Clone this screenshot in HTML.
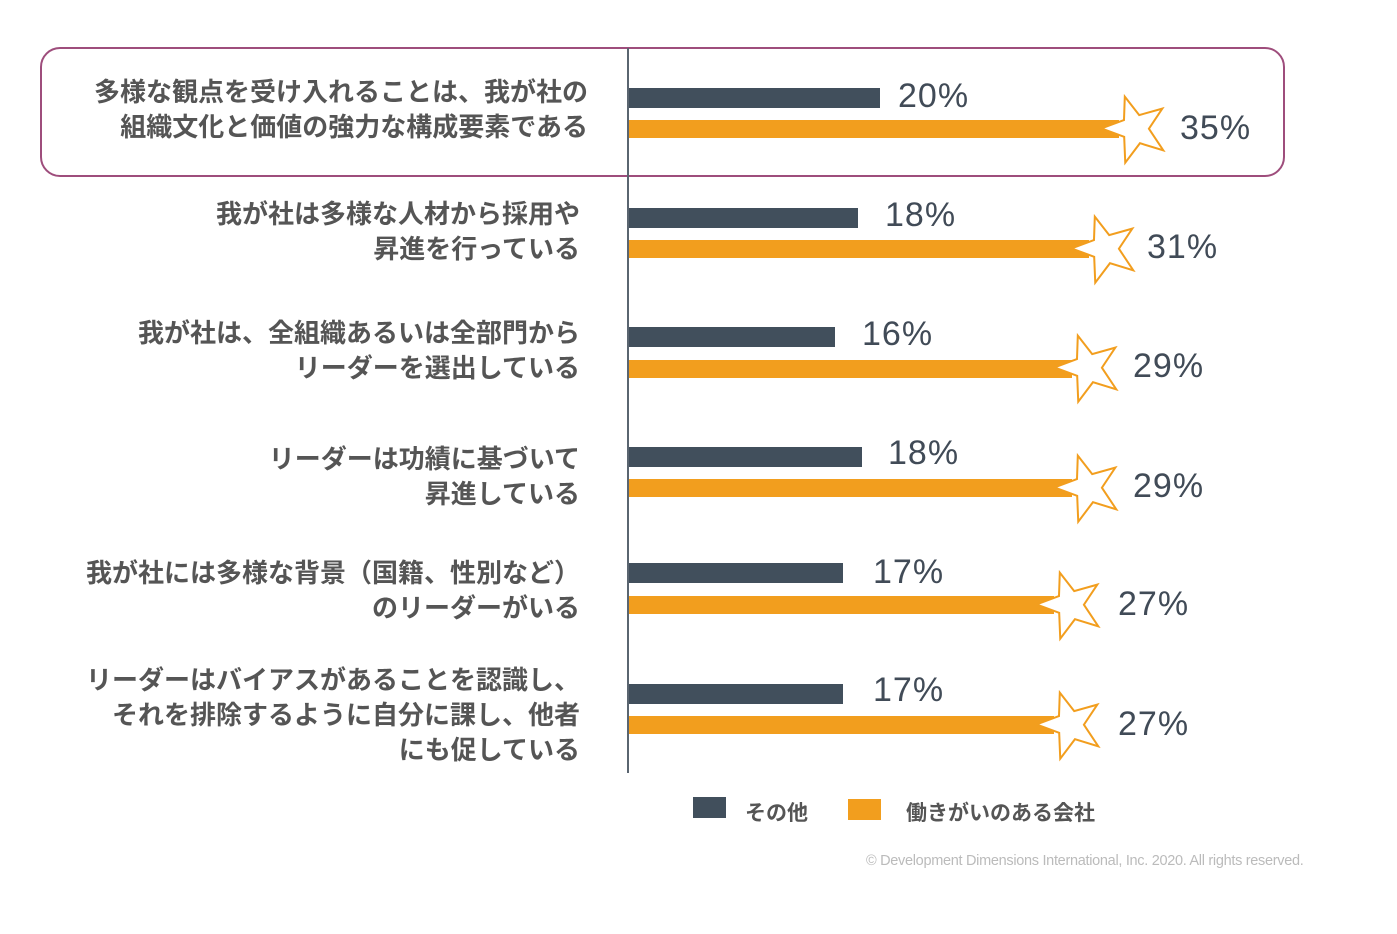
<!DOCTYPE html>
<html><head><meta charset="utf-8"><style>
body{margin:0;width:1397px;height:934px;background:#fff;position:relative;overflow:hidden;font-family:"Liberation Sans","Noto Sans CJK JP",sans-serif}
.a{position:absolute}
.lab{position:absolute;right:817px;text-align:right;font-size:26px;font-weight:bold;color:#555;line-height:35px;white-space:nowrap;letter-spacing:0}
.g{position:absolute;left:629px;height:20px;background:#414f5c}
.o{position:absolute;left:629px;height:18px;background:#f29e1e}
.p{position:absolute;font-size:34px;color:#414b57;line-height:1;transform:translateY(-50%);letter-spacing:1px}
</style></head><body>
<div class="a" style="left:40px;top:47px;width:1241px;height:126px;border:2.5px solid #9e4d7c;border-radius:20px"></div>
<div class="a" style="left:627px;top:48px;width:2px;height:725px;background:#5a6570"></div>

<div class="lab" style="top:75px;right:809px">多様な観点を受け入れることは、我が社の<br>組織文化と価値の強力な構成要素である</div>
<div class="lab" style="top:197px">我が社は多様な人材から採用や<br>昇進を行っている</div>
<div class="lab" style="top:316px">我が社は、全組織あるいは全部門から<br>リーダーを選出している</div>
<div class="lab" style="top:442px">リーダーは功績に基づいて<br>昇進している</div>
<div class="lab" style="top:556px">我が社には多様な背景（国籍、性別など）<br>のリーダーがいる</div>
<div class="lab" style="top:663px">リーダーはバイアスがあることを認識し、<br>それを排除するように自分に課し、他者<br>にも促している</div>

<div class="g" style="top:88px;width:251px"></div><div class="o" style="top:120px;width:490px"></div>
<div class="p" style="left:898px;top:96px">20%</div><div class="p" style="left:1180px;top:128px">35%</div>
<div class="g" style="top:208px;width:229px"></div><div class="o" style="top:240px;width:460px"></div>
<div class="p" style="left:885px;top:215px">18%</div><div class="p" style="left:1147px;top:247px">31%</div>
<div class="g" style="top:327px;width:206px"></div><div class="o" style="top:360px;width:443px"></div>
<div class="p" style="left:862px;top:334px">16%</div><div class="p" style="left:1133px;top:366px">29%</div>
<div class="g" style="top:447px;width:233px"></div><div class="o" style="top:479px;width:443px"></div>
<div class="p" style="left:888px;top:453px">18%</div><div class="p" style="left:1133px;top:486px">29%</div>
<div class="g" style="top:563px;width:214px"></div><div class="o" style="top:596px;width:425px"></div>
<div class="p" style="left:873px;top:572px">17%</div><div class="p" style="left:1118px;top:604px">27%</div>
<div class="g" style="top:684px;width:214px"></div><div class="o" style="top:716px;width:425px"></div>
<div class="p" style="left:873px;top:690px">17%</div><div class="p" style="left:1118px;top:724px">27%</div>

<svg class="a" style="left:0;top:0" width="1397" height="934">
<defs><polygon id="st" points="0,-33 8,-11 32,-10 13,5 20,30 0,16 -20,30 -13,5 -32,-10 -8,-11" fill="#fff" stroke="#f29e1e" stroke-width="2" transform="rotate(-18)"/></defs>
<use href="#st" x="1135" y="128"/>
<use href="#st" x="1105" y="248"/>
<use href="#st" x="1088" y="367"/>
<use href="#st" x="1088" y="487"/>
<use href="#st" x="1070" y="604"/>
<use href="#st" x="1070" y="724"/>
</svg>

<div class="a" style="left:693px;top:797px;width:33px;height:21px;background:#414f5c"></div>
<div class="a" style="left:745px;top:797px;font-size:21px;font-weight:bold;color:#555">その他</div>
<div class="a" style="left:848px;top:799px;width:33px;height:21px;background:#f29e1e"></div>
<div class="a" style="left:906px;top:797px;font-size:21px;font-weight:bold;color:#555">働きがいのある会社</div>
<div class="a" style="left:866px;top:853px;font-size:14.5px;color:#bbb;letter-spacing:-0.3px">© Development Dimensions International, Inc. 2020. All rights reserved.</div>
</body></html>
